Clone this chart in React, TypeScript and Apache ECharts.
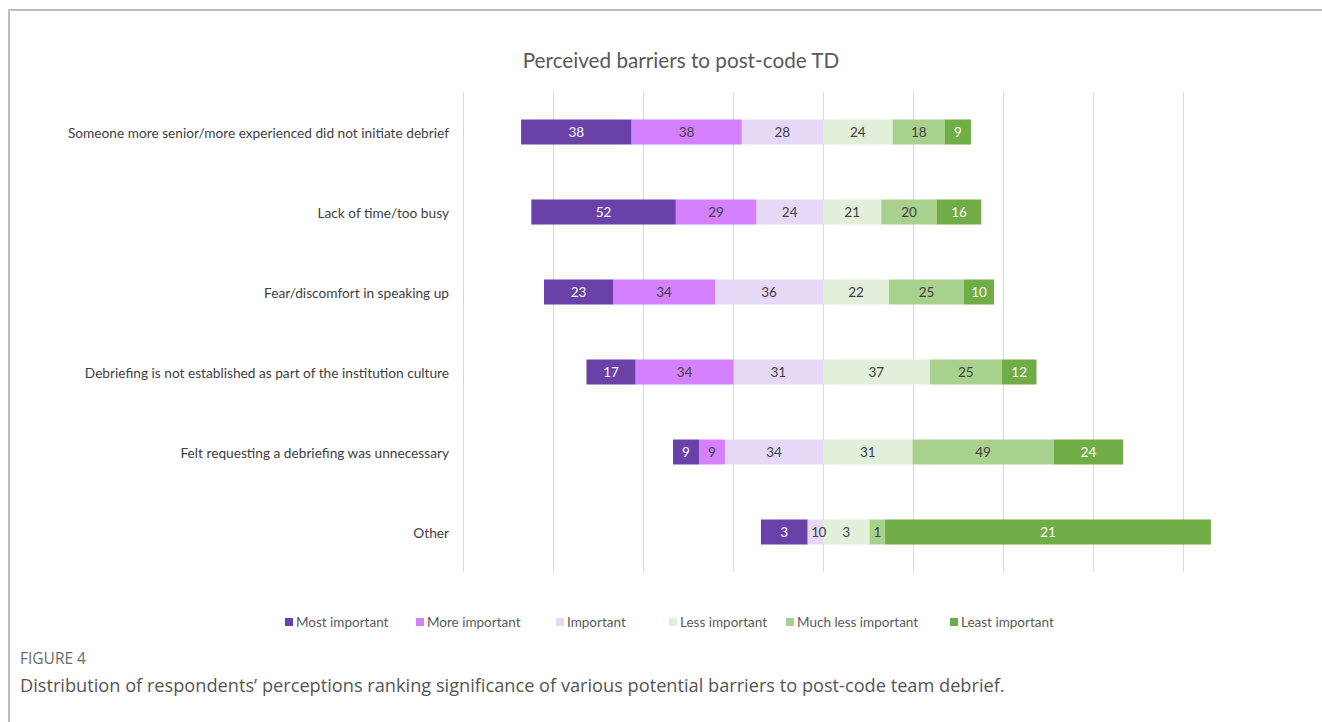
import React, { useEffect, useRef } from "react";
import * as echarts from "echarts";

const categories = [
  "Someone more senior/more experienced did not initiate debrief",
  "Lack of time/too busy",
  "Fear/discomfort in speaking up",
  "Debriefing is not established as part of the institution culture",
  "Felt requesting a debriefing was unnecessary",
  "Other",
];

const levelNames = [
  "Most important",
  "More important",
  "Important",
  "Less important",
  "Much less important",
  "Least important",
];

// counts of respondents per ranking level (one value per category)
const mostImportant = [38, 52, 23, 17, 9, 3];
const moreImportant = [38, 29, 34, 34, 9, 0];
const important = [28, 24, 36, 31, 34, 1];
const lessImportant = [24, 21, 22, 37, 31, 3];
const muchLessImportant = [18, 20, 25, 25, 49, 1];
const leastImportant = [9, 16, 10, 12, 24, 21];

const levelCounts = [
  mostImportant,
  moreImportant,
  important,
  lessImportant,
  muchLessImportant,
  leastImportant,
];

const levelColors = ["#6941A8", "#D580FF", "#E6D9F7", "#E2EFDA", "#A9D18E", "#70AD47"];
const labelColors = ["#ffffff", "#404040", "#404040", "#404040", "#404040", "#ffffff"];
const legendLefts = [285, 416, 556, 669, 786, 950];

const FONT = "Lato, 'Open Sans', sans-serif";

export default function App() {
  const ref = useRef<HTMLDivElement>(null);

  useEffect(() => {
    if (!ref.current) return;
    const chart = echarts.init(ref.current, undefined, { renderer: "svg" });

    const totals = categories.map((_, i) =>
      levelCounts.reduce((s, arr) => s + arr[i], 0)
    );

    // stacking order: left side from the centre outward, then right side from centre outward
    const stackOrder = [2, 1, 0, 3, 4, 5];
    const series = stackOrder.map((lvl) => {
      const sign = lvl <= 2 ? -1 : 1;
      return {
        name: levelNames[lvl],
        type: "bar",
        stack: "all",
        barWidth: 25,
        clip: false,
        itemStyle: { color: levelColors[lvl] },
        label: {
          show: true,
          position: "inside",
          color: labelColors[lvl],
          fontSize: 13.5,
          fontFamily: FONT,
          formatter: (p: any) => String(levelCounts[lvl][p.dataIndex]),
        },
        data: levelCounts[lvl].map((c, i) => {
          const v = (sign * c * 100) / totals[i];
          if (c === 0) {
            return { value: v, label: { offset: [15, 0] } };
          }
          return v;
        }),
      };
    });

    const legends = levelNames.map((n, i) => ({
      data: [n],
      left: legendLefts[i],
      top: 615,
      padding: 0,
      itemWidth: 8,
      itemHeight: 8,
      icon: "rect",
      selectedMode: false,
      textStyle: { color: "#595959", fontSize: 13.5, fontFamily: FONT, padding: [0, 0, 0, -2] },
    }));

    chart.setOption({
      animation: false,
      backgroundColor: "#ffffff",
      grid: { left: 463, right: 139, top: 92, bottom: 150, containLabel: false },
      xAxis: {
        type: "value",
        min: -80,
        max: 80,
        interval: 20,
        axisLabel: { show: false },
        axisLine: { show: false },
        axisTick: { show: false },
        splitLine: { show: true, lineStyle: { color: "#d9d9d9", width: 1 } },
      },
      yAxis: {
        type: "category",
        inverse: true,
        data: categories,
        axisLine: { show: false },
        axisTick: { show: false },
        splitLine: { show: false },
        axisLabel: { color: "#404040", fontSize: 13.7, fontFamily: FONT, margin: 14 },
      },
      legend: legends,
      series,
      graphic: [
        {
          type: "line",
          shape: { x1: 8, y1: 10, x2: 1322, y2: 10 },
          style: { stroke: "#bdbdbd", lineWidth: 2 },
        },
        {
          type: "line",
          shape: { x1: 9, y1: 10, x2: 9, y2: 722 },
          style: { stroke: "#bdbdbd", lineWidth: 2 },
        },
        {
          type: "text",
          x: 681,
          y: 60,
          style: {
            text: "Perceived barriers to post-code TD",
            fill: "#595959",
            font: "20.7px " + FONT,
            textAlign: "center",
            textVerticalAlign: "middle",
          },
        },
        {
          type: "text",
          x: 20,
          y: 658,
          style: {
            text: "FIGURE 4",
            fill: "#6b6b6b",
            font: "15.5px 'Open Sans', sans-serif",
            textAlign: "left",
            textVerticalAlign: "middle",
          },
        },
        {
          type: "text",
          x: 20,
          y: 685,
          style: {
            text:
              "Distribution of respondents\u2019 perceptions ranking significance of various potential barriers to post-code team debrief.",
            fill: "#555555",
            font: "18.2px 'Open Sans', sans-serif",
            textAlign: "left",
            textVerticalAlign: "middle",
          },
        },
      ],
    });

    return () => chart.dispose();
  }, []);

  return (
    <div
      ref={ref}
      style={{ position: "fixed", left: 0, top: 0, width: 1322, height: 722, background: "#fff" }}
    />
  );
}
